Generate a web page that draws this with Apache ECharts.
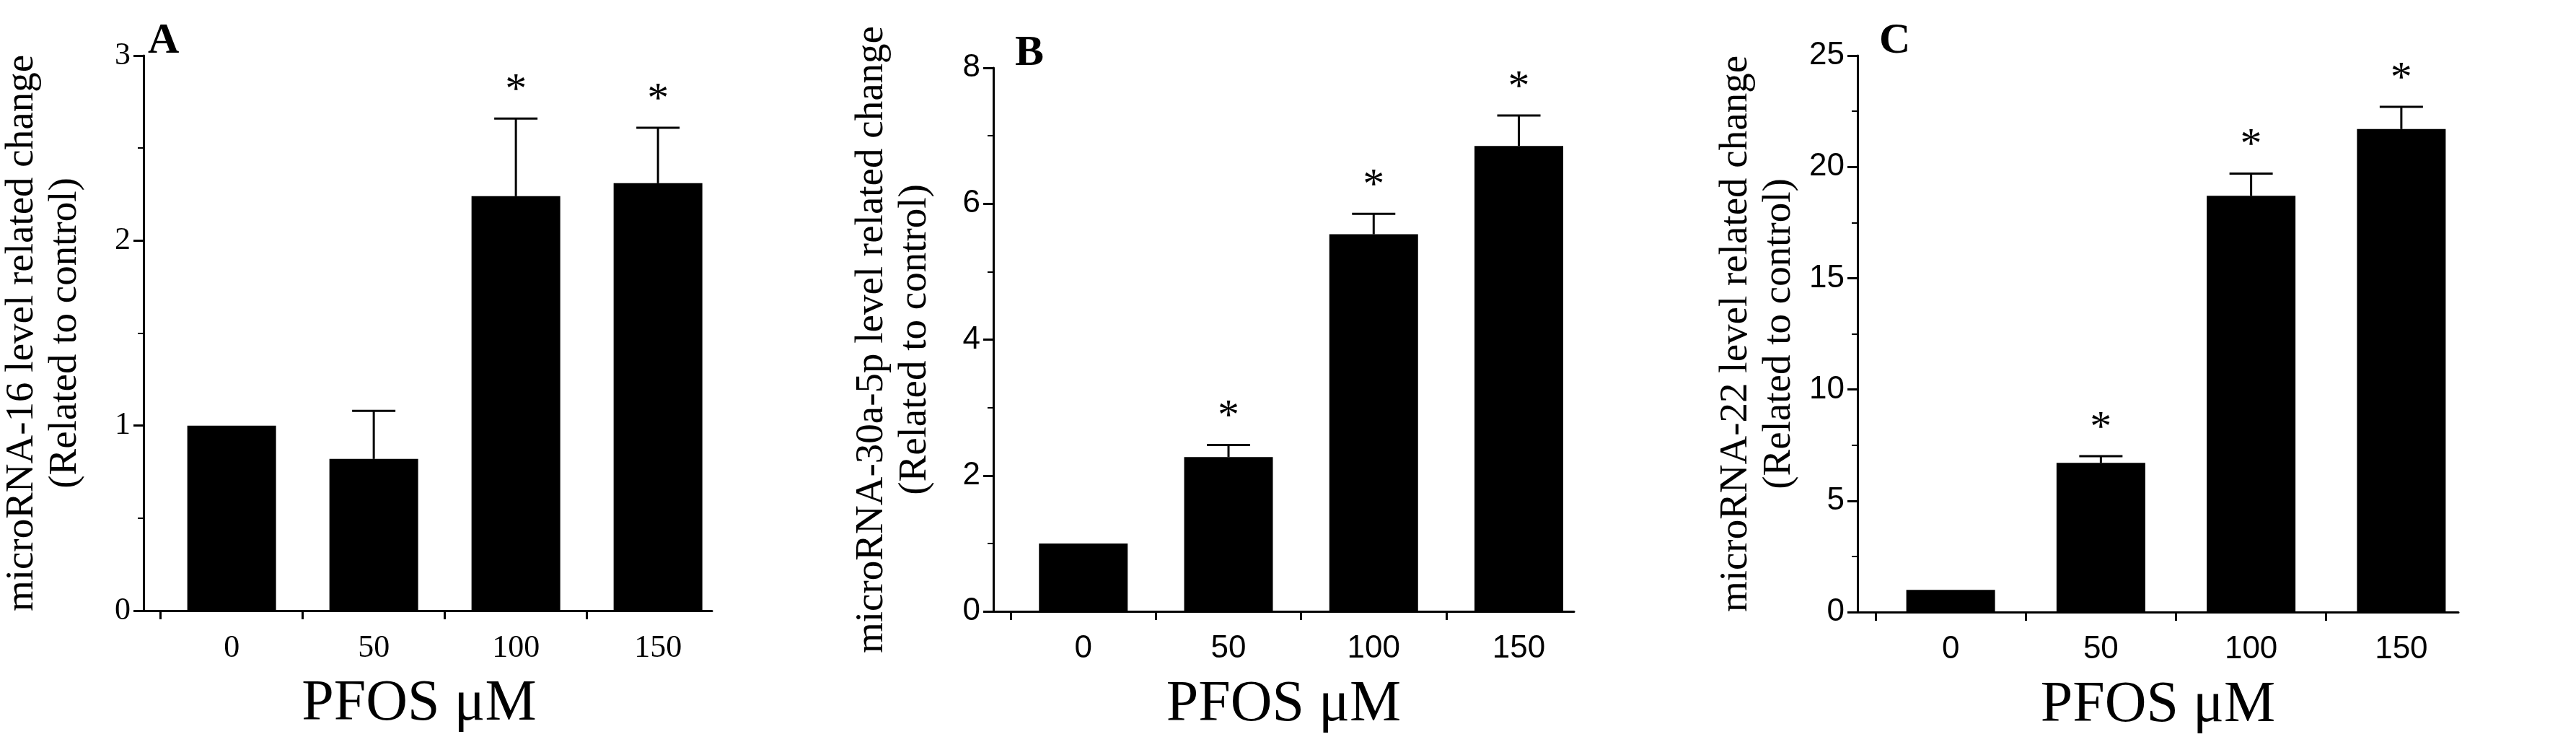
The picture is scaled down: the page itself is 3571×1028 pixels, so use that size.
<!DOCTYPE html>
<html>
<head>
<meta charset="utf-8">
<script src="https://cdn.jsdelivr.net/npm/echarts@6/dist/echarts.min.js"></script>
<style>html,body{margin:0;padding:0;background:#fff}#chart{width:3571px;height:1028px}</style>
</head>
<body>
<div id="chart"></div>
<script>
var doses = ['0', '50', '100', '150'];
// panel A: microRNA-16
var meanA = [1.0, 0.82, 2.24, 2.31];
var errA = [0, 1.08, 2.66, 2.61];
var starA = [false, false, true, true];
// panel B: microRNA-30a-5p
var meanB = [1.0, 2.27, 5.55, 6.85];
var errB = [0, 2.45, 5.85, 7.3];
var starB = [false, true, true, true];
// panel C: microRNA-22
var meanC = [1.0, 6.7, 18.7, 21.7];
var errC = [0, 7.0, 19.7, 22.7];
var starC = [false, true, true, true];

var serif = 'Liberation Serif';
var sans = 'Liberation Sans';

var panels = [
  { letter: 'A', grid: { left: 175, right: 2584, top: 77, bottom: 182 }, max: 3, interval: 1, tickFont: serif,
    title: 'microRNA-16 level related change\n(Related to control)', mean: meanA, err: errA, star: starA },
  { letter: 'B', grid: { left: 1377, right: 1389, top: 94, bottom: 181 }, max: 8, interval: 2, tickFont: sans,
    title: 'microRNA-30a-5p level related change\n(Related to control)', mean: meanB, err: errB, star: starB },
  { letter: 'C', grid: { left: 2575, right: 163, top: 77, bottom: 180 }, max: 25, interval: 5, tickFont: sans,
    title: 'microRNA-22 level related change\n(Related to control)', mean: meanC, err: errC, star: starC }
];

var grids = [], xAxes = [], yAxes = [], series = [], graphics = [];

panels.forEach(function (p, i) {
  grids.push(p.grid);
  xAxes.push({
    type: 'value', gridIndex: i, min: -0.62, max: 3.38,
    splitLine: { show: false },
    axisLine: { onZero: false, lineStyle: { color: '#000', width: 3 } },
    axisTick: { show: true, customValues: [-0.5, 0.5, 1.5, 2.5], length: 12, lineStyle: { color: '#000', width: 3 } },
    axisLabel: { customValues: [0, 1, 2, 3], formatter: function (v) { return doses[Math.round(v)]; },
      fontFamily: p.tickFont, fontSize: 44, color: '#000', margin: 30 }
  });
  yAxes.push({
    type: 'value', gridIndex: i, min: 0, max: p.max, interval: p.interval,
    splitLine: { show: false },
    axisLine: { show: true, onZero: false, lineStyle: { color: '#000', width: 3 } },
    axisTick: { show: true, length: 14, lineStyle: { color: '#000', width: 3 } },
    minorTick: { show: true, splitNumber: 2, length: 8, lineStyle: { color: '#000', width: 2 } },
    axisLabel: { fontFamily: p.tickFont, fontSize: 44, color: '#000', margin: 18 },
    name: p.title, nameLocation: 'middle', nameGap: 78,
    nameTextStyle: { fontFamily: serif, fontSize: 55, color: '#000', lineHeight: 60 }
  });
  series.push({
    type: 'bar', xAxisIndex: i, yAxisIndex: i, barWidth: 123,
    itemStyle: { color: '#000' }, silent: true,
    data: p.mean.map(function (v, k) { return [k, v]; })
  });
  series.push({
    type: 'custom', xAxisIndex: i, yAxisIndex: i, silent: true,
    data: p.mean.map(function (v, k) { return [k, v, p.err[k], p.star[k] ? 1 : 0]; }),
    renderItem: function (params, api) {
      var x = api.value(0), m = api.value(1), e = api.value(2), s = api.value(3);
      var children = [];
      var top = api.coord([x, e > m ? e : m]);
      if (e > m) {
        var base = api.coord([x, m]);
        children.push({ type: 'line', shape: { x1: base[0], y1: base[1], x2: top[0], y2: top[1] },
          style: { stroke: '#000', lineWidth: 3 } });
        children.push({ type: 'line', shape: { x1: top[0] - 30, y1: top[1], x2: top[0] + 30, y2: top[1] },
          style: { stroke: '#000', lineWidth: 3 } });
      }
      if (s) {
        children.push({ type: 'text', x: top[0], y: top[1] - 8,
          style: { text: '*', fontFamily: serif, fontSize: 60, fill: '#000', align: 'center', verticalAlign: 'bottom' } });
      }
      return { type: 'group', children: children };
    }
  });
  var gw = 3571 - p.grid.left - p.grid.right;
  graphics.push({ type: 'text', x: p.grid.left + gw / 2, y: 1028 - p.grid.bottom + 130,
    style: { text: 'PFOS μM', font: '80px "Liberation Serif"', fill: '#000', align: 'center', verticalAlign: 'middle' } });
  graphics.push({ type: 'text', left: p.grid.left + 30, top: p.grid.top - 50,
    style: { text: p.letter, font: 'bold 60px "Liberation Serif"', fill: '#000' } });
});

var chart = echarts.init(document.getElementById('chart'));
chart.setOption({
  backgroundColor: '#fff',
  animation: false,
  grid: grids,
  xAxis: xAxes,
  yAxis: yAxes,
  series: series,
  graphic: graphics
});
</script>
</body>
</html>
